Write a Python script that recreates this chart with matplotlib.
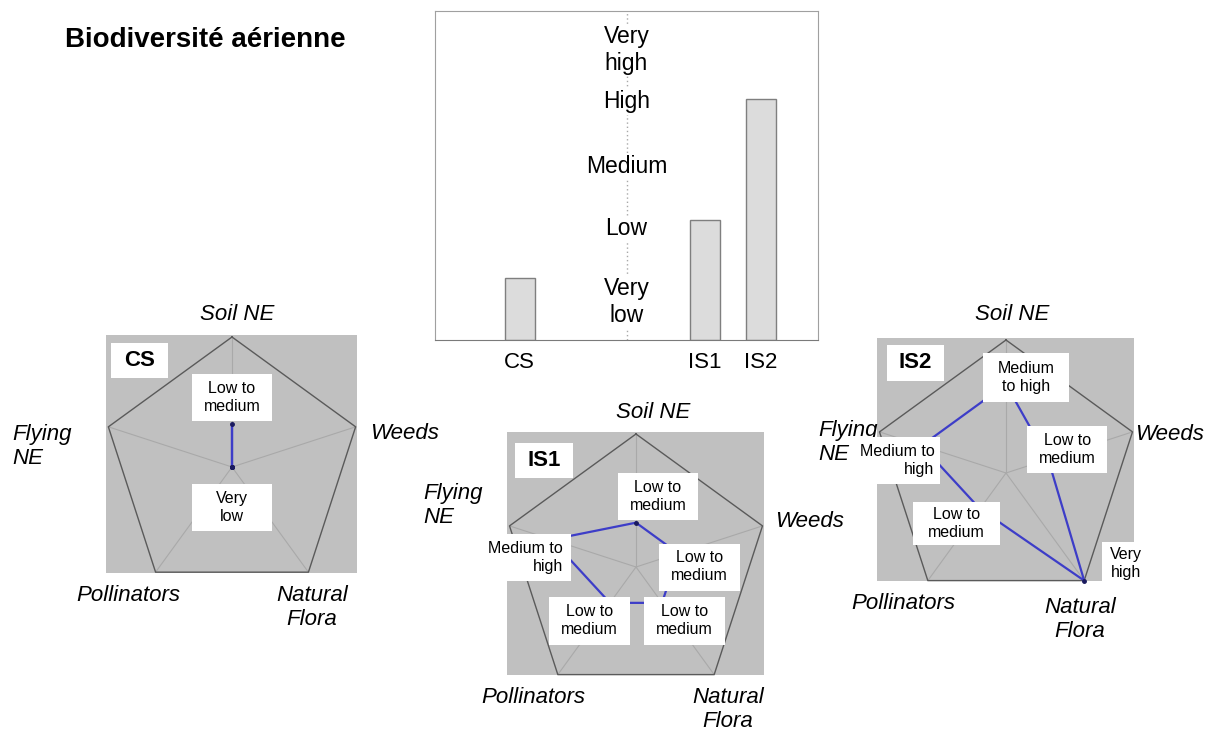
import numpy as np
import matplotlib
matplotlib.use("Agg")
import matplotlib.pyplot as plt
import matplotlib.patches as patches

plt.rcParams['font.family'] = ['Liberation Sans', 'DejaVu Sans']

W, H = 1215, 734

# bar chart data
bar_names = ["CS", "IS1", "IS2"]
bar_values = [0.94, 1.82, 3.66]
level_names = ["Very\nlow", "Low", "Medium", "High", "Very\nhigh"]

# radar data, scale 0 (very low) .. 3 (very high)
axis_names = ["Soil NE", "Weeds", "Natural\nFlora", "Pollinators", "Flying\nNE"]
cs_values = [1, 0, 0, 0, 0]
is1_values = [1, 1, 1, 1, 2]
is2_values = [2, 1, 3, 1, 2]
cs_labels = ["Low to\nmedium", "Very\nlow", None, None, None]
is1_labels = ["Low to\nmedium", "Low to\nmedium", "Low to\nmedium", "Low to\nmedium", "Medium to\nhigh"]
is2_labels = ["Medium\nto high", "Low to\nmedium", "Very\nhigh", "Low to\nmedium", "Medium to\nhigh"]

# layout (pixels / units of radius)
bar_x = [1.55, 4.93, 5.95]
level_y = [0.58, 1.69, 2.63, 3.62, 4.41]

panels = [
    dict(name="CS", values=cs_values, labels=cs_labels, c=(232, 467), R=130,
         tag=(-0.71, 0.82, 57, 35),
         names=[(0.04, 1.17), (1.06, 0.26), (0.615, -1.08), (-0.8, -0.985), (-1.69, 0.16)],
         boxes=[(0, 0.535, 80, 47), (0, -0.31, 80, 47), None, None, None]),
    dict(name="IS1", values=is1_values, labels=is1_labels, c=(636, 567), R=133,
         tag=(-0.69, 0.80, 58, 35),
         names=[(0.13, 1.165), (1.045, 0.34), (0.69, -1.07), (-0.77, -0.98), (-1.6, 0.46)],
         boxes=[(0.165, 0.53, 80, 47), (0.477, 0.0, 81, 47), (0.365, -0.405, 81, 48),
                (-0.35, -0.405, 81, 48), (-0.83, 0.07, 91, 47)]),
    dict(name="IS2", values=is2_values, labels=is2_labels, c=(1006, 473), R=133,
         tag=(-0.68, 0.83, 57, 36),
         names=[(0.045, 1.19), (0.97, 0.29), (0.556, -1.10), (-0.775, -0.98), (-1.41, 0.23)],
         boxes=[(0.15, 0.72, 86, 49), (0.46, 0.18, 80, 47), (0.9, -0.68, 47, 43),
                (-0.37, -0.38, 87, 43), (-0.82, 0.094, 87, 47)]),
]


def px_axes(fig, x0, y0, x1, y1):
    return fig.add_axes([x0 / W, 1 - y1 / H, (x1 - x0) / W, (y1 - y0) / H])


fig = plt.figure(figsize=(W / 100, H / 100), dpi=100)
fig.text(65 / W, 1 - 47 / H, "Biodiversité aérienne", fontsize=20, fontweight='bold',
         va='baseline', ha='left')

# --- bar chart ---
ax = px_axes(fig, 435, 11, 818, 340)
ax.bar(bar_x, bar_values, width=0.55, color='#dcdcdc', edgecolor='#7f7f7f', linewidth=1, zorder=2)
ax.set_xlim(0, 7)
ax.set_ylim(0, 5)
ax.axvline(3.5, color='#a8a8a8', ls=(0, (1, 2)), lw=1, zorder=0)
for y, name in zip(level_y, level_names):
    ax.text(3.5, y, name, ha='center', va='center', fontsize=16.5, linespacing=1.2,
            bbox=dict(facecolor='white', edgecolor='none', pad=1), zorder=3)
ax.set_xticks(bar_x, bar_names, fontsize=16)
ax.tick_params(axis='x', length=0, pad=9)
ax.set_yticks([])
for s in ax.spines.values():
    s.set_color('#a0a0a0')
ax.spines['bottom'].set_color('#7a7a7a')

# --- radar panels ---
ang = np.deg2rad(90 - 72 * np.arange(5))
vx, vy = np.cos(ang), np.sin(ang)
xlo, xhi, ylo, yhi = -0.97, 0.965, -0.815, 1.012

for p in panels:
    cx, cy = p["c"]
    R = p["R"]
    ax = px_axes(fig, cx + xlo * R, cy - yhi * R, cx + xhi * R, cy - ylo * R)
    ax.set_facecolor('#c0c0c0')
    ax.set_xlim(xlo, xhi)
    ax.set_ylim(ylo, yhi)
    ax.set_xticks([])
    ax.set_yticks([])
    for s in ax.spines.values():
        s.set_visible(False)

    for i in range(5):
        ax.plot([0, vx[i]], [0, vy[i]], color='#a9a9a9', lw=0.8, zorder=1)
    ax.plot(np.append(vx, vx[0]), np.append(vy, vy[0]), color='#5a5a5a', lw=1.0,
            zorder=2, clip_on=False)

    r = np.array(p["values"]) / 3.0
    px, py = r * vx, r * vy
    ax.plot(np.append(px, px[0]), np.append(py, py[0]), color='#3d3dc8', lw=1.6, zorder=3,
            clip_on=False)
    ax.plot(px, py, 'o', color='#1a1a5e', ms=2.5, zorder=3, clip_on=False)

    for name, (tx, ty) in zip(axis_names, p["names"]):
        ha = 'left' if name in ("Weeds", "Flying\nNE") else 'center'
        ax.text(tx, ty, name, fontsize=16, style='italic', ha=ha, va='center',
                linespacing=1.2, zorder=2)

    for lab, box in zip(p["labels"], p["boxes"]):
        if lab is None:
            continue
        bx, by, bw, bh = box
        w, h = bw / R, bh / R
        ax.add_patch(patches.Rectangle((bx - w / 2, by - h / 2), w, h, facecolor='white',
                                       edgecolor='none', zorder=4, clip_on=False))
        malign = 'right' if lab.startswith("Medium to") else 'center'
        ax.text(bx, by, lab, fontsize=11.5, ha='center', va='center', multialignment=malign,
                linespacing=1.25, zorder=5)

    tx, ty, tw, th = p["tag"]
    w, h = tw / R, th / R
    ax.add_patch(patches.Rectangle((tx - w / 2, ty - h / 2), w, h, facecolor='white',
                                   edgecolor='none', zorder=4))
    ax.text(tx, ty, p["name"], fontsize=16, fontweight='bold', ha='center', va='center', zorder=5)

fig.savefig("out.png", dpi=100)
